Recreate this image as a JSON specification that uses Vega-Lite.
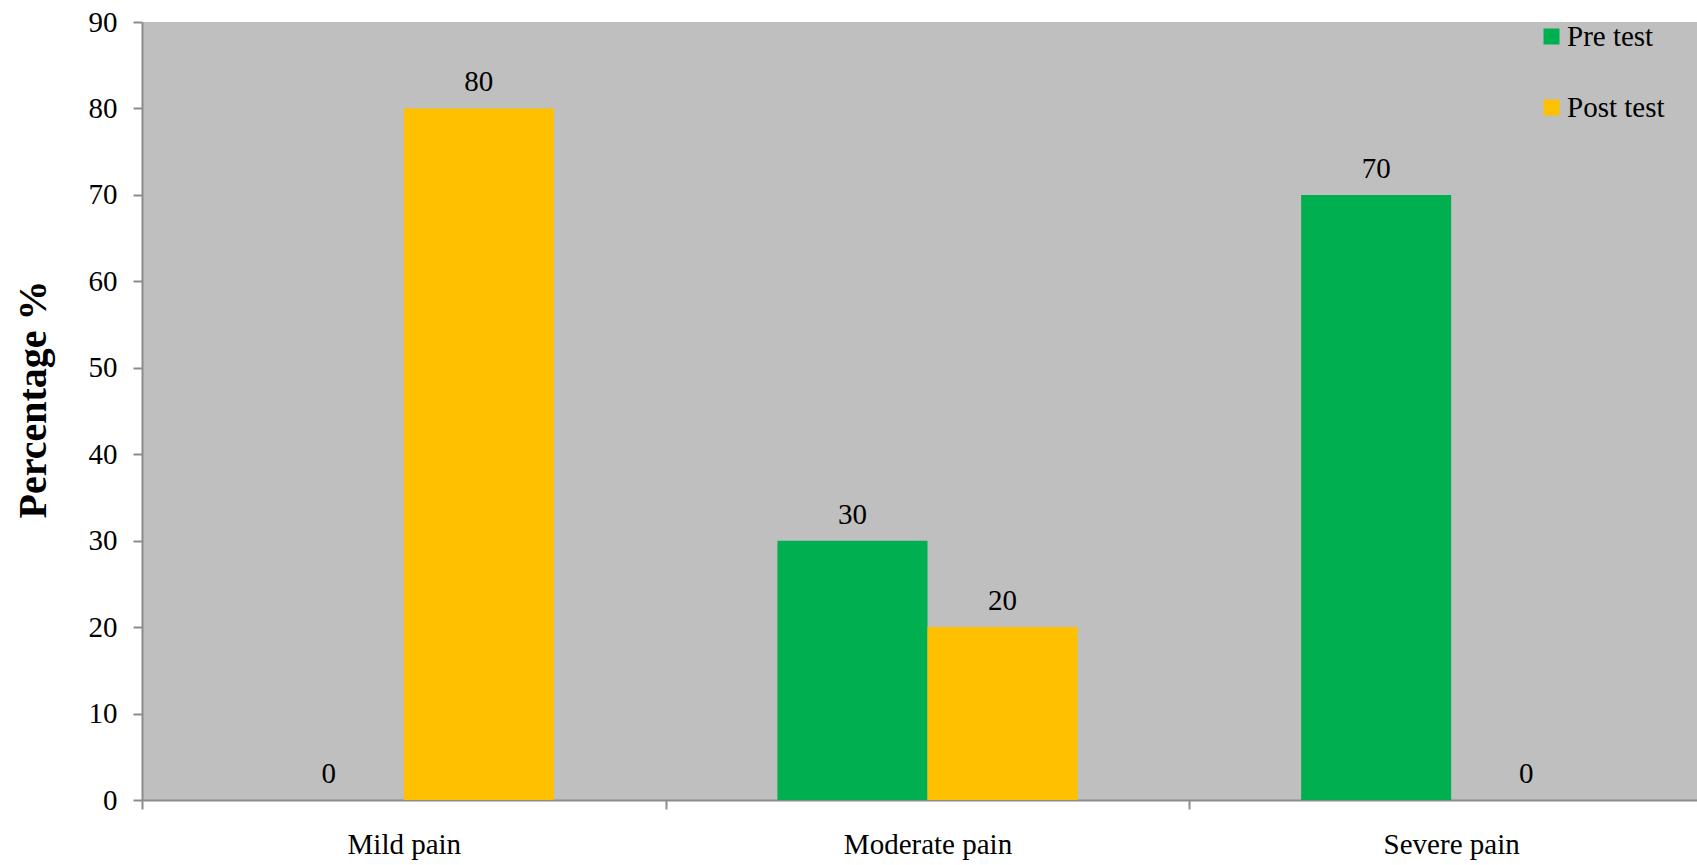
{
  "$schema": "https://vega.github.io/schema/vega-lite/v6.json",
  "autosize": {"type": "none"},
  "width": 1555,
  "height": 778,
  "padding": {"left": 142, "top": 22, "right": 0, "bottom": 65},
  "background": "white",
  "config": {
    "view": {"fill": "#BFBFBF", "stroke": null},
    "font": "Liberation Serif, Times New Roman, serif",
    "axis": {"grid": false, "domainColor": "#8C8C8C", "domainWidth": 2, "tickColor": "#8C8C8C", "tickWidth": 2, "labelColor": "black", "labelFont": "Liberation Serif, Times New Roman, serif", "labelFontSize": 29}
  },
  "data": {
    "values": [
      {"category": "Mild pain", "group": "Pre test", "value": 0},
      {"category": "Mild pain", "group": "Post test", "value": 80},
      {"category": "Moderate pain", "group": "Pre test", "value": 30},
      {"category": "Moderate pain", "group": "Post test", "value": 20},
      {"category": "Severe pain", "group": "Pre test", "value": 70},
      {"category": "Severe pain", "group": "Post test", "value": 0}
    ]
  },
  "encoding": {
    "x": {
      "field": "category", "type": "nominal", "sort": ["Mild pain", "Moderate pain", "Severe pain"],
      "scale": {"range": [0, 1571], "paddingInner": 0, "paddingOuter": 0},
      "axis": {"title": null, "labelAngle": 0, "tickBand": "extent", "tickSize": 9, "labelPadding": 44, "labelBaseline": "alphabetic"}
    },
    "xOffset": {
      "field": "group", "type": "nominal", "sort": ["Pre test", "Post test"],
      "scale": {"paddingInner": 0, "paddingOuter": 0.745}
    },
    "y": {
      "field": "value", "type": "quantitative",
      "scale": {"domain": [0, 90], "nice": false},
      "axis": {"values": [0, 10, 20, 30, 40, 50, 60, 70, 80, 90], "tickSize": 9, "labelPadding": 16,
        "title": "Percentage %", "titleFont": "Liberation Serif, Times New Roman, serif", "titleFontSize": 40, "titleFontWeight": "bold", "titleColor": "black",
        "titleAngle": -90, "titleBaseline": "alphabetic", "titleAlign": "center", "titleX": -97, "titleY": 377}
    }
  },
  "layer": [
    {
      "mark": {"type": "bar"},
      "encoding": {
        "color": {
          "field": "group", "type": "nominal", "sort": ["Pre test", "Post test"],
          "scale": {"domain": ["Pre test", "Post test"], "range": ["#00B050", "#FFC000"]},
          "legend": {"title": null, "orient": "none", "legendX": 1395, "legendY": 0, "padding": 0,
            "symbolType": "square", "symbolSize": 256, "symbolStrokeWidth": 0, "labelFontSize": 29, "labelFont": "Liberation Serif, Times New Roman, serif", "labelColor": "black",
            "labelOffset": 1, "rowPadding": 41}
        }
      }
    },
    {
      "mark": {"type": "text", "baseline": "alphabetic", "dy": -17, "fontSize": 29, "font": "Liberation Serif, Times New Roman, serif", "color": "black"},
      "encoding": {"text": {"field": "value", "type": "quantitative"}}
    }
  ]
}
